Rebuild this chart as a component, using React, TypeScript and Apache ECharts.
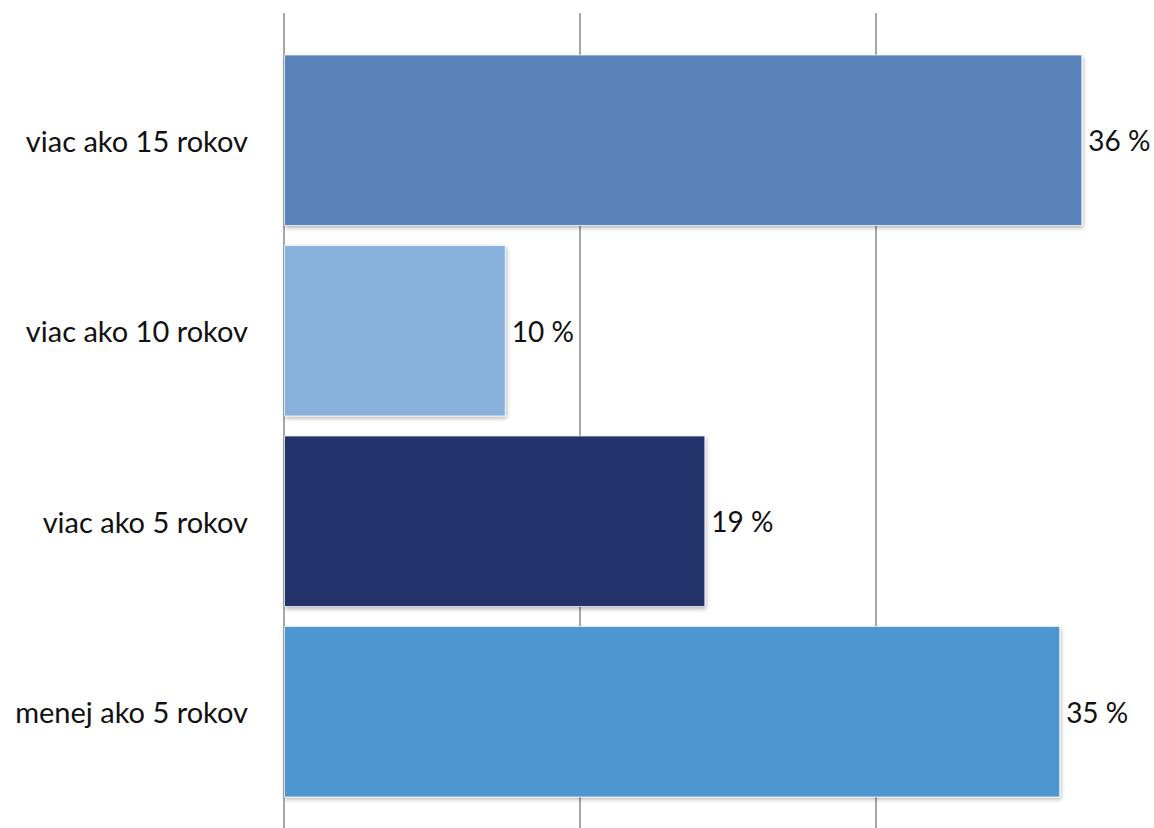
import React, { useEffect, useRef } from "react";
import * as echarts from "echarts";

const categories = ["menej ako 5 rokov", "viac ako 5 rokov", "viac ako 10 rokov", "viac ako 15 rokov"];
const values = [35, 19, 10, 36];
const barColors = ["#4E96D0", "#22306B", "#88B2DC", "#5A84B9"];
const axisMax = 40;
const axisInterval = 40 / 3;

export default function App() {
  const ref = useRef<HTMLDivElement>(null);
  useEffect(() => {
    if (!ref.current) return;
    const chart = echarts.init(ref.current, null, { renderer: "svg" });
    const font = "Lato, 'Noto Sans', sans-serif";
    chart.setOption({
      animation: false,
      backgroundColor: "#ffffff",
      grid: [
        { left: 284, right: 29, top: 45, bottom: 21, containLabel: false },
        { left: 284, right: 29, top: 13, bottom: -20, containLabel: false },
      ],
      xAxis: [
        {
          gridIndex: 0,
          type: "value",
          min: 0,
          max: axisMax,
          interval: axisInterval,
          axisLine: { show: false },
          axisTick: { show: false },
          axisLabel: { show: false },
          splitLine: { show: false },
        },
        {
          gridIndex: 1,
          type: "value",
          min: 0,
          max: axisMax,
          interval: axisInterval,
          axisLine: { show: false },
          axisTick: { show: false },
          axisLabel: { show: false },
          splitLine: { show: true, lineStyle: { color: "#8a8a8a", width: 1.5 } },
        },
      ],
      yAxis: [
        {
          gridIndex: 0,
          type: "category",
          data: categories,
          axisLine: { show: false },
          axisTick: { show: false },
          splitLine: { show: false },
          axisLabel: {
            margin: 36,
            fontSize: 29,
            fontFamily: font,
            color: "#111111",
          },
        },
        {
          gridIndex: 1,
          type: "value",
          min: 0,
          max: 1,
          axisLine: { show: false },
          axisTick: { show: false },
          axisLabel: { show: false },
          splitLine: { show: false },
        },
      ],
      series: [
        {
          type: "bar",
          xAxisIndex: 0,
          yAxisIndex: 0,
          barCategoryGap: "10%",
          data: values.map((v, i) => ({ value: v, itemStyle: { color: barColors[i] } })),
          itemStyle: {
            borderColor: "rgba(255,255,255,0.7)",
            borderWidth: 1,
            shadowBlur: 4,
            shadowColor: "rgba(0,0,0,0.3)",
            shadowOffsetX: 1,
            shadowOffsetY: 2,
          },
          label: {
            show: true,
            position: "right",
            distance: 6,
            formatter: (p: any) => `${p.value} %`,
            fontSize: 28,
            fontFamily: font,
            color: "#111111",
          },
        },
      ],
    });
    return () => chart.dispose();
  }, []);
  return (
    <div style={{ position: "fixed", left: 0, top: 0, width: 1154, height: 828, overflow: "hidden" }}>
      <div ref={ref} style={{ width: 1200, height: 828 }} />
    </div>
  );
}
